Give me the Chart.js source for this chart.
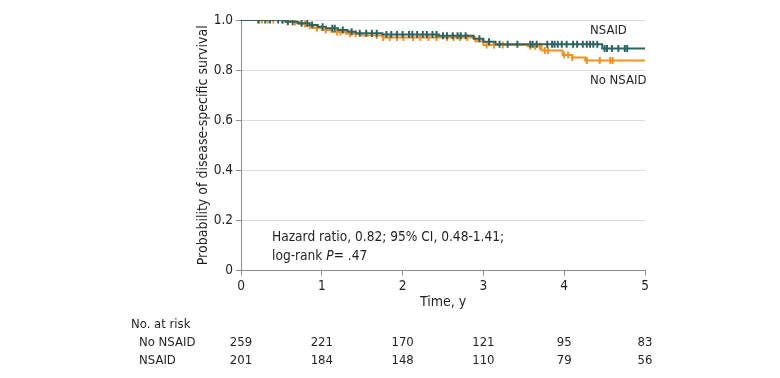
<!DOCTYPE html>
<html>
<head>
<meta charset="utf-8">
<script src="https://cdn.jsdelivr.net/npm/chart.js@4/dist/chart.umd.min.js"></script>
<style>
  html, body { margin: 0; padding: 0; background: #fff; }
  #wrap { position: relative; width: 780px; height: 378px; }
</style>
</head>
<body>
<div id="wrap"><canvas id="c" width="780" height="378"></canvas></div>
<script>
// ---- Data ----
const nsaidEventTimes = [0.55, 0.70, 0.85, 0.95, 1.05, 1.20, 1.32, 1.42, 1.75, 2.45, 2.88, 3.00, 3.15, 4.47];
const nsaidSurvival   = [0.993, 0.987, 0.980, 0.973, 0.967, 0.960, 0.953, 0.947, 0.942, 0.937, 0.925, 0.913, 0.903, 0.886];
const nsaidCensorTimes = [0.22, 0.30, 0.36, 0.46, 0.51, 0.58, 0.64, 0.75, 0.82, 0.88, 1.01, 1.13, 1.16, 1.26, 1.37, 1.47,
  1.55, 1.62, 1.68, 1.80, 1.86, 1.93, 2.00, 2.08, 2.12, 2.18, 2.25, 2.30, 2.37, 2.42, 2.50, 2.55, 2.62, 2.68, 2.72, 2.78,
  2.95, 3.07, 3.20, 3.30, 3.42, 3.58, 3.61, 3.66, 3.79, 3.85, 3.88, 3.92, 3.97, 4.03, 4.11, 4.16, 4.23, 4.28, 4.32, 4.36,
  4.41, 4.50, 4.53, 4.59, 4.67, 4.75, 4.78];

const noNsaidEventTimes = [0.62, 0.72, 0.80, 0.90, 1.00, 1.12, 1.30, 1.50, 1.75, 2.90, 3.00, 3.55, 3.72, 3.98, 4.10, 4.26];
const noNsaidSurvival   = [0.992, 0.984, 0.976, 0.968, 0.960, 0.952, 0.945, 0.938, 0.930, 0.915, 0.900, 0.895, 0.878, 0.860, 0.850, 0.838];
const noNsaidCensorTimes = [0.21, 0.26, 0.33, 0.40, 0.52, 0.58, 0.67, 0.79, 0.85, 0.94, 1.05, 1.19, 1.23, 1.35, 1.42,
  1.68, 1.76, 1.84, 1.93, 2.01, 2.13, 2.22, 2.32, 2.42, 2.55, 2.63, 2.71, 2.80, 3.04, 3.13, 3.24, 3.58, 3.64, 3.70,
  3.76, 3.80, 4.00, 4.05, 4.10, 4.28, 4.44, 4.57, 4.60];

const followUpEnd = 5;
const xTicks = [0, 1, 2, 3, 4, 5];
const yTicks = [0, 0.2, 0.4, 0.6, 0.8, 1.0];
const riskTimes = [0, 1, 2, 3, 4, 5];
const riskNoNsaid = [259, 221, 170, 121, 95, 83];
const riskNsaid = [201, 184, 148, 110, 79, 56];

const seriesLabels = ['NSAID', 'No NSAID'];
const riskRowLabels = ['No NSAID', 'NSAID'];

// ---- Helpers ----
function stepPoints(times, surv, end) {
  const pts = [{x: 0, y: 1}];
  times.forEach((t, i) => pts.push({x: t, y: surv[i]}));
  pts.push({x: end, y: surv[surv.length - 1]});
  return pts;
}
function survAt(times, surv, t) {
  let s = 1;
  for (let i = 0; i < times.length; i++) { if (times[i] <= t) s = surv[i]; }
  return s;
}
function censorPoints(cTimes, times, surv) {
  return cTimes.map(t => ({x: t, y: survAt(times, surv, t)}));
}

const TEAL = '#2c6363';
const ORANGE = '#f5901e';
const FONT = '"DejaVu Sans Condensed", "Open Sans", sans-serif';
const TXT = '#231f20';
const AXIS = '#8c8c8c';

const textPlugin = {
  id: 'texts',
  afterDraw(chart) {
    const ctx = chart.ctx;
    const xs = chart.scales.x;
    const ca = chart.chartArea;
    ctx.save();
    ctx.fillStyle = TXT;
    ctx.font = '14px ' + FONT;
    ctx.textBaseline = 'middle';

    // y-axis title
    ctx.save();
    ctx.translate(203, (ca.top + ca.bottom) / 2);
    ctx.rotate(-Math.PI / 2);
    ctx.textAlign = 'center';
    ctx.fillText('Probability of disease-specific survival', 0, 0);
    ctx.restore();

    // x-axis title
    ctx.textAlign = 'center';
    ctx.fillText('Time, y', (ca.left + ca.right) / 2, 302);

    // annotation
    ctx.textAlign = 'left';
    ctx.font = '13.6px ' + FONT;
    ctx.fillText('Hazard ratio, 0.82; 95% CI, 0.48-1.41;', 272, 237);
    let x = 272;
    const a = 'log-rank ';
    ctx.fillText(a, x, 256);
    x += ctx.measureText(a).width;
    ctx.font = 'italic 13.6px ' + FONT;
    ctx.fillText('P', x, 256);
    x += ctx.measureText('P').width;
    ctx.font = '13.6px ' + FONT;
    ctx.fillText('= .47', x, 256);

    // series labels
    ctx.font = '13px ' + FONT;
    ctx.fillText(seriesLabels[0], 590, 31);
    ctx.fillText(seriesLabels[1], 590, 81);

    // number at risk
    ctx.fillText('No. at risk', 131, 325);
    ctx.fillText(riskRowLabels[0], 139, 343);
    ctx.fillText(riskRowLabels[1], 139, 361);
    ctx.textAlign = 'center';
    riskTimes.forEach((t, i) => {
      const px = xs.getPixelForValue(t);
      ctx.fillText(String(riskNoNsaid[i]), px, 343);
      ctx.fillText(String(riskNsaid[i]), px, 361);
    });
    ctx.restore();
  }
};

new Chart(document.getElementById('c'), {
  type: 'scatter',
  data: {
    datasets: [
      {
        label: 'NSAID',
        data: stepPoints(nsaidEventTimes, nsaidSurvival, followUpEnd),
        showLine: true, stepped: 'before', borderColor: TEAL, borderWidth: 2,
        pointRadius: 0, order: 0
      },
      {
        label: 'NSAID censored',
        data: censorPoints(nsaidCensorTimes, nsaidEventTimes, nsaidSurvival),
        showLine: false, pointStyle: 'line', rotation: 90, pointRadius: 3.5,
        borderColor: TEAL, backgroundColor: TEAL, pointBorderWidth: 2, order: 0
      },
      {
        label: 'No NSAID',
        data: stepPoints(noNsaidEventTimes, noNsaidSurvival, followUpEnd),
        showLine: true, stepped: 'before', borderColor: ORANGE, borderWidth: 2,
        pointRadius: 0, order: 1
      },
      {
        label: 'No NSAID censored',
        data: censorPoints(noNsaidCensorTimes, noNsaidEventTimes, noNsaidSurvival),
        showLine: false, pointStyle: 'line', rotation: 90, pointRadius: 3.5,
        borderColor: ORANGE, backgroundColor: ORANGE, pointBorderWidth: 2, order: 1
      }
    ]
  },
  options: {
    responsive: false,
    animation: false,
    devicePixelRatio: 1,
    layout: { padding: { left: 0, right: 135, top: 20, bottom: 0 } },
    plugins: { legend: { display: false }, tooltip: { enabled: false } },
    scales: {
      x: {
        type: 'linear', min: 0, max: 5,
        afterFit(s) { s.height = 107.5; },
        afterBuildTicks(s) { s.ticks = xTicks.map(v => ({value: v})); },
        ticks: { color: TXT, font: { family: FONT, size: 13.5 }, padding: 3, maxRotation: 0 },
        grid: { drawOnChartArea: false, tickLength: 5, tickColor: AXIS, lineWidth: 1 },
        border: { color: AXIS, width: 1 }
      },
      y: {
        type: 'linear', min: 0, max: 1,
        afterFit(s) { s.width = 241; },
        afterBuildTicks(s) { s.ticks = yTicks.map(v => ({value: v})); },
        ticks: {
          color: TXT, font: { family: FONT, size: 13.5 }, padding: 3,
          callback: v => (v === 0 ? '0' : v.toFixed(1))
        },
        grid: { color: '#dcdcdc', tickLength: 5, tickColor: AXIS, lineWidth: 1 },
        border: { color: AXIS, width: 1 }
      }
    }
  },
  plugins: [textPlugin]
});
</script>
</body>
</html>
